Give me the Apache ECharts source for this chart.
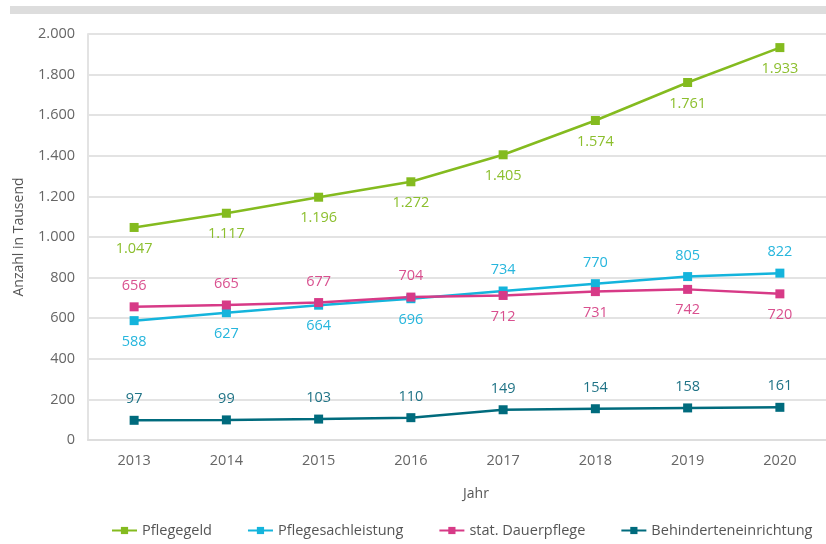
<!DOCTYPE html>
<html>
<head>
<meta charset="utf-8">
<script src="https://cdn.jsdelivr.net/npm/echarts@6/dist/echarts.min.js"></script>
<style>
  html, body { margin: 0; padding: 0; background: #fff; }
  #chart { width: 826px; height: 544px; }
</style>
</head>
<body>
<div id="chart"></div>
<script>
var years = ['2013', '2014', '2015', '2016', '2017', '2018', '2019', '2020']
var pflegegeld = [1047, 1117, 1196, 1272, 1405, 1574, 1761, 1933]
var sachleistung = [588, 627, 664, 696, 734, 770, 805, 822]
var dauerpflege = [656, 665, 677, 704, 712, 731, 742, 720]
var behinderte = [97, 99, 103, 110, 149, 154, 158, 161]
// label above/below per point
var sachPos = ['bottom', 'bottom', 'bottom', 'bottom', 'top', 'top', 'top', 'top']
var dauerPos = ['top', 'top', 'top', 'top', 'bottom', 'bottom', 'bottom', 'bottom']

var font = '"Open Sans", sans-serif'

function fmt(v) {
  return String(v).replace(/\B(?=(\d{3})+(?!\d))/g, '.')
}

function mkData(values, positions) {
  return values.map(function (v, i) {
    var item = { value: v }
    if (positions) item.label = { position: positions[i] }
    return item
  })
}

function mkSeries(name, values, color, labelColor, pos, positions) {
  return {
    name: name,
    type: 'line',
    data: mkData(values, positions),
    symbol: 'rect',
    symbolSize: 9,
    itemStyle: { color: color },
    lineStyle: { color: color, width: 2.5 },
    label: {
      show: true,
      position: pos,
      distance: 9,
      color: labelColor,
      fontFamily: font,
      fontSize: 14.5,
      formatter: function (p) { return fmt(p.value) }
    }
  }
}

var chart = echarts.init(document.getElementById('chart'))

var option = {
  animation: false,
  textStyle: { fontFamily: font },
  graphic: [{
    type: 'rect',
    shape: { x: 10, y: 6, width: 816, height: 8 },
    style: { fill: '#dddddd' }
  }],
  grid: { left: 88, top: 34, width: 750, height: 406 },
  legend: {
    bottom: 1,
    left: 106,
    itemWidth: 25,
    itemHeight: 9,
    itemGap: 35,
    textStyle: { color: '#555', fontSize: 14.5, fontFamily: font },
    data: ['Pflegegeld', 'Pflegesachleistung', 'stat. Dauerpflege', 'Behinderteneinrichtung']
  },
  xAxis: {
    type: 'category',
    data: years,
    name: 'Jahr',
    nameLocation: 'middle',
    nameGap: 47,
    nameTextStyle: { color: '#555', fontSize: 14, fontFamily: font, padding: [0, 0, 0, 38] },
    axisLine: { lineStyle: { color: '#dddddd', width: 2 } },
    axisTick: { show: false },
    axisLabel: { color: '#666', fontSize: 14.5, margin: 13, fontFamily: font }
  },
  yAxis: {
    type: 'value',
    min: 0,
    max: 2000,
    interval: 200,
    name: 'Anzahl in Tausend',
    nameLocation: 'middle',
    nameGap: 62,
    nameTextStyle: { color: '#555', fontSize: 14, fontFamily: font },
    axisLine: { show: true, lineStyle: { color: '#e3e3e3', width: 2 } },
    axisTick: { show: false },
    splitLine: { lineStyle: { color: '#e3e3e3', width: 2 } },
    axisLabel: {
      color: '#666', fontSize: 14.5, margin: 13, fontFamily: font,
      formatter: function (v) { return fmt(v) }
    }
  },
  series: [
    mkSeries('Pflegegeld', pflegegeld, '#84bb1f', '#8cbf2e', 'bottom'),
    mkSeries('Pflegesachleistung', sachleistung, '#14b4dc', '#26b6dd', 'bottom', sachPos),
    mkSeries('stat. Dauerpflege', dauerpflege, '#d73a87', '#d9508f', 'top', dauerPos),
    mkSeries('Behinderteneinrichtung', behinderte, '#006b7d', '#1f7386', 'top')
  ]
}

chart.setOption(option)
</script>
</body>
</html>
